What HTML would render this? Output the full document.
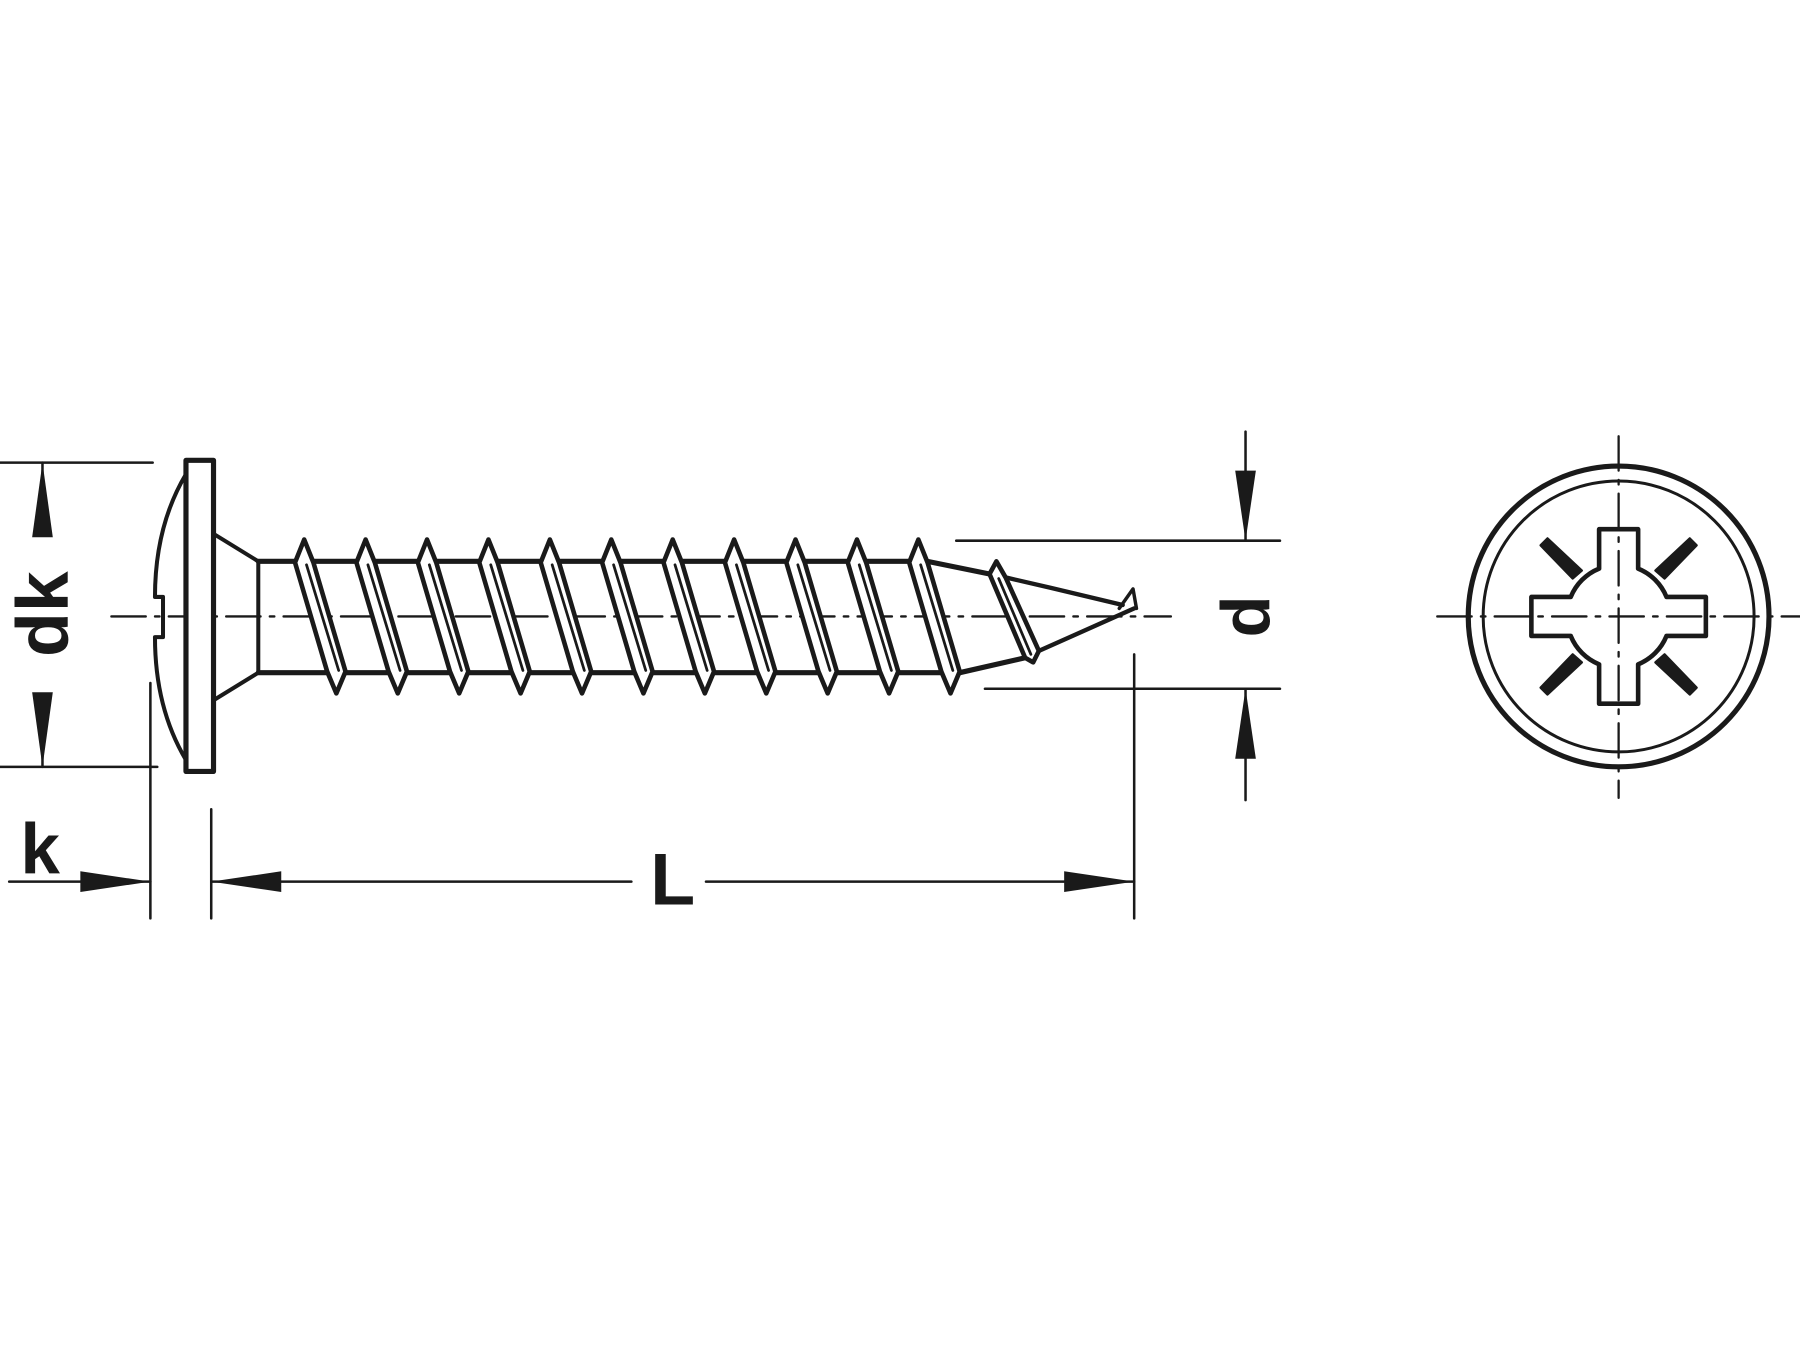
<!DOCTYPE html>
<html><head><meta charset="utf-8"><style>html,body{margin:0;padding:0;background:#fff}svg{display:block}</style></head>
<body>
<svg width="1800" height="1350" viewBox="0 0 1568 1176" xmlns="http://www.w3.org/2000/svg">
<g fill="none" stroke="#1a1a1a" stroke-linecap="round" stroke-linejoin="round">
<!-- centerline -->
<path d="M97 537 H1020" stroke-width="2" stroke-dasharray="30 8 4 8"/>
<!-- dk extension lines -->
<path d="M0 403 H133 M0 668 H137" stroke-width="2.2"/>
<path d="M37 403 V460 M37 610 V668" stroke-width="2.2"/>
<!-- k / L extension lines -->
<path d="M131 595 V800 M184 705 V800 M988 570 V800" stroke-width="2.2"/>
<path d="M8 768 H131 M184 768 H550 M615 768 H988" stroke-width="2.2"/>
<!-- d dims -->
<path d="M833 471 H1115 M858 600 H1115 M1085 376 V471 M1085 600 V697" stroke-width="2.2"/>

<!-- head -->
<rect x="162" y="401" width="24" height="271" fill="#fff" stroke-width="4.5"/>
<path d="M162 413 C140 450 135 490 135 520 H142 V555 H135 C135 585 140 625 162 662" stroke-width="3.5"/>
<path d="M186 465 L225 489 M186 610 L225 586 M225 489 V586" stroke-width="3.5"/>
<!-- shank lines -->
<path d="M225 489 H808 L862 500 M225 586 H836 L893 573" stroke-width="4.5"/>
<path d="M876 503 L915 512 L978 527 M905 567 L988 530" stroke-width="3.8"/>
<path d="M975 530 L987 513 L990 530" stroke-width="3"/>
<!-- threads -->
<g stroke-width="4" fill="#fff">
<g id="t"><path d="M257 490 L265 470 L273 490 L301 585 L293 604 L285 585 Z"/><path d="M267 492 L295 584" stroke-width="2.4"/></g>
<use href="#t" x="53.5"/><use href="#t" x="107"/><use href="#t" x="160.5"/><use href="#t" x="214"/>
<use href="#t" x="267.5"/><use href="#t" x="321"/><use href="#t" x="374.5"/><use href="#t" x="428"/>
<use href="#t" x="481.5"/><use href="#t" x="535"/>
<path d="M862 500 L868 489 L876 503 L905 567 L900 577 L893 573 Z"/>
<path d="M870 504 L898 570" stroke-width="2.4"/>
</g>

<!-- right view -->
<path d="M1252 537 H1568 M1410 380 V695" stroke-width="2" stroke-dasharray="30 8 4 8"/>
<circle cx="1410" cy="537" r="131" stroke-width="4.5"/>
<circle cx="1410" cy="537" r="118" stroke-width="2.6"/>
<g transform="translate(1410 537)">
<path d="M-17 -41.7 L-17 -76 L17 -76 L17 -41.7 A45 45 0 0 1 41.7 -17 L76 -17 L76 17 L41.7 17 A45 45 0 0 1 17 41.7 L17 76 L-17 76 L-17 41.7 A45 45 0 0 1 -41.7 17 L-76 17 L-76 -17 L-41.7 -17 A45 45 0 0 1 -17 -41.7 Z" stroke-width="4"/>
<g fill="#1a1a1a" stroke-width="2">
<path d="M32 -40 L40 -33 L68 -62 L62 -68 Z"/>
<path d="M-32 -40 L-40 -33 L-68 -62 L-62 -68 Z"/>
<path d="M32 40 L40 33 L68 62 L62 68 Z"/>
<path d="M-32 40 L-40 33 L-68 62 L-62 68 Z"/>
</g>
</g>
</g>
<!-- arrowheads -->
<g fill="#1a1a1a">
<path d="M37 403 L28 468 L46 468 Z"/>
<path d="M37 668 L28 603 L46 603 Z"/>
<path d="M131 768 L70 759 L70 777 Z"/>
<path d="M184 768 L245 759 L245 777 Z"/>
<path d="M988 768 L927 759 L927 777 Z"/>
<path d="M1085 471 L1076 410 L1094 410 Z"/>
<path d="M1085 600 L1076 661 L1094 661 Z"/>
</g>
<g font-family="Liberation Sans, sans-serif" font-weight="bold" fill="#1a1a1a">
<text x="0" y="0" font-size="64" text-anchor="middle" transform="translate(59 535) rotate(-90)">dk</text>
<text x="0" y="0" font-size="60" text-anchor="middle" transform="translate(1106 537) rotate(-90)">d</text>
<text x="35" y="761" font-size="62" text-anchor="middle">k</text>
<text x="586" y="788" font-size="64" text-anchor="middle">L</text>
</g>
</svg>
</body></html>
